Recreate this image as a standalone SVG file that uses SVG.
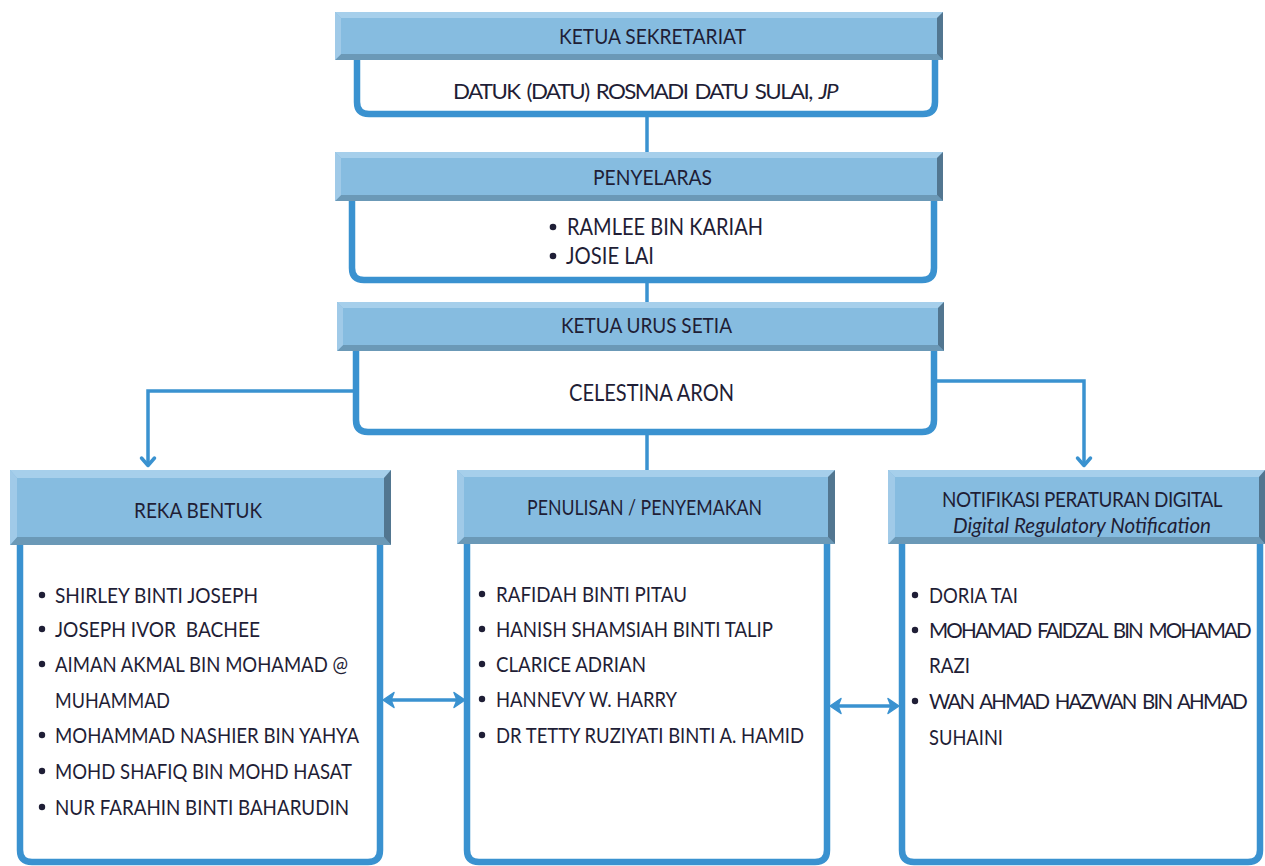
<svg xmlns="http://www.w3.org/2000/svg" width="1265" height="866" viewBox="0 0 1265 866">
<style>
.hm{fill:#86BCE0}
.ht{fill:#A6CFEB}
.hb{fill:#6B99B7}
.hl{fill:#A0CAE8}
.hr{fill:#527690}
.box{fill:#FFFFFF;stroke:#3A92D0;stroke-width:6.5}
.con{fill:none;stroke:#3A92D0;stroke-width:3.5}
.t{font-family:Lato,"Open Sans","Liberation Sans",sans-serif;font-size:22px;fill:#1F1E36}
.m{font-size:23px}
.s{font-size:20.5px;letter-spacing:-1.8px;word-spacing:3px}
.n{font-size:21px;letter-spacing:-0.5px}
.d{letter-spacing:-1.6px;word-spacing:3px}
.i{font-style:italic}
.pre{white-space:pre}
.bul{fill:#1F1E36}
</style>
<defs>
<marker id="chev" viewBox="-14 -9 16 18" refX="0" refY="0" markerWidth="16" markerHeight="18" markerUnits="userSpaceOnUse" orient="auto">
<path d="M-8,-6.5 L-0.5,0 L-8,6.5" fill="none" stroke="#3A92D0" stroke-width="3.5" stroke-linecap="round" stroke-linejoin="round"/>
</marker>
<marker id="dbl" viewBox="-14 -9 18 18" refX="-3" refY="0" markerWidth="18" markerHeight="18" markerUnits="userSpaceOnUse" orient="auto-start-reverse">
<path d="M0,0 L-11,-7.5 L-8,0 L-11,7.5 Z" fill="#3A92D0" stroke="#3A92D0" stroke-width="1.5" stroke-linejoin="round"/>
</marker>
</defs>
<rect width="1265" height="866" fill="#FFFFFF"/>

<g id="connectors">
<path class="con" d="M647,114 V152"/>
<path class="con" d="M647,280 V302"/>
<path class="con" d="M647,432 V470"/>
<path class="con" d="M356,391 H148 V466" marker-end="url(#chev)"/>
<path class="con" d="M934,381 H1084 V466" marker-end="url(#chev)"/>
<path class="con" d="M386,700 H462" marker-start="url(#dbl)" marker-end="url(#dbl)"/>
<path class="con" d="M833,706 H896" marker-start="url(#dbl)" marker-end="url(#dbl)"/>
</g>

<g id="ketua-sekretariat">
<path class="box" d="M357,58 V102 Q357,114 369,114 H923 Q935,114 935,102 V58"/>
<rect class="hm" x="335" y="12" width="608" height="48"/>
<polygon class="ht" points="335,12 943,12 937,18 341,18"/>
<polygon class="hb" points="335,60 943,60 937,54 341,54"/>
<polygon class="hl" points="335,12 341,18 341,54 335,60"/>
<polygon class="hr" points="943,12 937,18 937,54 943,60"/>
<text class="t" x="559" y="44" textLength="187" lengthAdjust="spacingAndGlyphs">KETUA SEKRETARIAT</text>
<text class="t d" x="453" y="99" textLength="384" lengthAdjust="spacingAndGlyphs">DATUK (DATU) ROSMADI DATU SULAI, <tspan class="i">JP</tspan></text>
</g>

<g id="penyelaras">
<path class="box" d="M352,199 V268 Q352,280 364,280 H922 Q934,280 934,268 V199"/>
<rect class="hm" x="335" y="152" width="608" height="49"/>
<polygon class="ht" points="335,152 943,152 937,158 341,158"/>
<polygon class="hb" points="335,201 943,201 937,195 341,195"/>
<polygon class="hl" points="335,152 341,158 341,195 335,201"/>
<polygon class="hr" points="943,152 937,158 937,195 943,201"/>
<text class="t" x="593" y="185" textLength="119" lengthAdjust="spacingAndGlyphs">PENYELARAS</text>
<circle class="bul" cx="553" cy="227" r="3.3"/>
<text class="t m" x="567" y="235" textLength="196" lengthAdjust="spacingAndGlyphs">RAMLEE BIN KARIAH</text>
<circle class="bul" cx="553" cy="256" r="3.3"/>
<text class="t m" x="566" y="264" textLength="88" lengthAdjust="spacingAndGlyphs">JOSIE LAI</text>
</g>

<g id="ketua-urus-setia">
<path class="box" d="M356,349 V420 Q356,432 368,432 H922 Q934,432 934,420 V349"/>
<rect class="hm" x="337" y="302" width="607" height="49"/>
<polygon class="ht" points="337,302 944,302 938,308 343,308"/>
<polygon class="hb" points="337,351 944,351 938,345 343,345"/>
<polygon class="hl" points="337,302 343,308 343,345 337,351"/>
<polygon class="hr" points="944,302 938,308 938,345 944,351"/>
<text class="t" x="561" y="333" textLength="171" lengthAdjust="spacingAndGlyphs">KETUA URUS SETIA</text>
<text class="t m" x="569" y="401" textLength="165" lengthAdjust="spacingAndGlyphs">CELESTINA ARON</text>
</g>

<g id="reka-bentuk">
<path class="box" d="M20,543 V850 Q20,862 32,862 H368 Q380,862 380,850 V543"/>
<rect class="hm" x="10" y="470" width="381" height="75"/>
<polygon class="ht" points="10,470 391,470 384,478 17,478"/>
<polygon class="hb" points="10,545 391,545 384,537 17,537"/>
<polygon class="hl" points="10,470 17,478 17,537 10,545"/>
<polygon class="hr" points="391,470 384,478 384,537 391,545"/>
<text class="t" x="134" y="518" textLength="128" lengthAdjust="spacingAndGlyphs">REKA BENTUK</text>
<circle class="bul" cx="42" cy="595" r="3.2"/>
<text class="t" x="55" y="603" textLength="203" lengthAdjust="spacingAndGlyphs">SHIRLEY BINTI JOSEPH</text>
<circle class="bul" cx="42" cy="629" r="3.2"/>
<text class="t pre" x="55" y="637" textLength="205" lengthAdjust="spacingAndGlyphs">JOSEPH IVOR  BACHEE</text>
<circle class="bul" cx="42" cy="664" r="3.2"/>
<text class="t" x="55" y="672" textLength="293" lengthAdjust="spacingAndGlyphs">AIMAN AKMAL BIN MOHAMAD @</text>
<text class="t" x="55" y="708" textLength="115" lengthAdjust="spacingAndGlyphs">MUHAMMAD</text>
<circle class="bul" cx="42" cy="735" r="3.2"/>
<text class="t" x="55" y="743" textLength="304" lengthAdjust="spacingAndGlyphs">MOHAMMAD NASHIER BIN YAHYA</text>
<circle class="bul" cx="42" cy="771" r="3.2"/>
<text class="t" x="55" y="779" textLength="297" lengthAdjust="spacingAndGlyphs">MOHD SHAFIQ BIN MOHD HASAT</text>
<circle class="bul" cx="42" cy="807" r="3.2"/>
<text class="t" x="55" y="815" textLength="294" lengthAdjust="spacingAndGlyphs">NUR FARAHIN BINTI BAHARUDIN</text>
</g>

<g id="penulisan-penyemakan">
<path class="box" d="M467,542 V850 Q467,862 479,862 H815 Q827,862 827,850 V542"/>
<rect class="hm" x="457" y="470" width="378" height="74"/>
<polygon class="ht" points="457,470 835,470 828,477 464,477"/>
<polygon class="hb" points="457,544 835,544 828,537 464,537"/>
<polygon class="hl" points="457,470 464,477 464,537 457,544"/>
<polygon class="hr" points="835,470 828,477 828,537 835,544"/>
<text class="t" x="527" y="515" textLength="235" lengthAdjust="spacingAndGlyphs">PENULISAN / PENYEMAKAN</text>
<circle class="bul" cx="482" cy="594" r="3.2"/>
<text class="t" x="496" y="602" textLength="191" lengthAdjust="spacingAndGlyphs">RAFIDAH BINTI PITAU</text>
<circle class="bul" cx="482" cy="629" r="3.2"/>
<text class="t" x="496" y="637" textLength="277" lengthAdjust="spacingAndGlyphs">HANISH SHAMSIAH BINTI TALIP</text>
<circle class="bul" cx="482" cy="664" r="3.2"/>
<text class="t" x="496" y="672" textLength="150" lengthAdjust="spacingAndGlyphs">CLARICE ADRIAN</text>
<circle class="bul" cx="482" cy="699" r="3.2"/>
<text class="t" x="496" y="707" textLength="181" lengthAdjust="spacingAndGlyphs">HANNEVY W. HARRY</text>
<circle class="bul" cx="482" cy="735" r="3.2"/>
<text class="t" x="496" y="743" textLength="308" lengthAdjust="spacingAndGlyphs">DR TETTY RUZIYATI BINTI A. HAMID</text>
</g>

<g id="notifikasi-peraturan-digital">
<path class="box" d="M902,542 V850 Q902,862 914,862 H1248 Q1260,862 1260,850 V542"/>
<rect class="hm" x="888" y="470" width="377" height="74"/>
<polygon class="ht" points="888,470 1265,470 1259,477 895,477"/>
<polygon class="hb" points="888,544 1265,544 1259,537 895,537"/>
<polygon class="hl" points="888,470 895,477 895,537 888,544"/>
<polygon class="hr" points="1265,470 1259,477 1259,537 1265,544"/>
<text class="t n" x="942" y="507" textLength="280" lengthAdjust="spacingAndGlyphs">NOTIFIKASI PERATURAN DIGITAL</text>
<text class="t i" x="953" y="533" textLength="258" lengthAdjust="spacingAndGlyphs">Digital Regulatory Notification</text>
<circle class="bul" cx="915" cy="595" r="3.2"/>
<text class="t" x="929" y="603" textLength="89" lengthAdjust="spacingAndGlyphs">DORIA TAI</text>
<circle class="bul" cx="915" cy="630" r="3.2"/>
<text class="t s" x="929" y="638" textLength="321" lengthAdjust="spacingAndGlyphs">MOHAMAD FAIDZAL BIN MOHAMAD</text>
<text class="t" x="929" y="673" textLength="41" lengthAdjust="spacingAndGlyphs">RAZI</text>
<circle class="bul" cx="915" cy="701" r="3.2"/>
<text class="t s" x="929" y="709" textLength="317" lengthAdjust="spacingAndGlyphs">WAN AHMAD HAZWAN BIN AHMAD</text>
<text class="t" x="929" y="745" textLength="74" lengthAdjust="spacingAndGlyphs">SUHAINI</text>
</g>
</svg>
